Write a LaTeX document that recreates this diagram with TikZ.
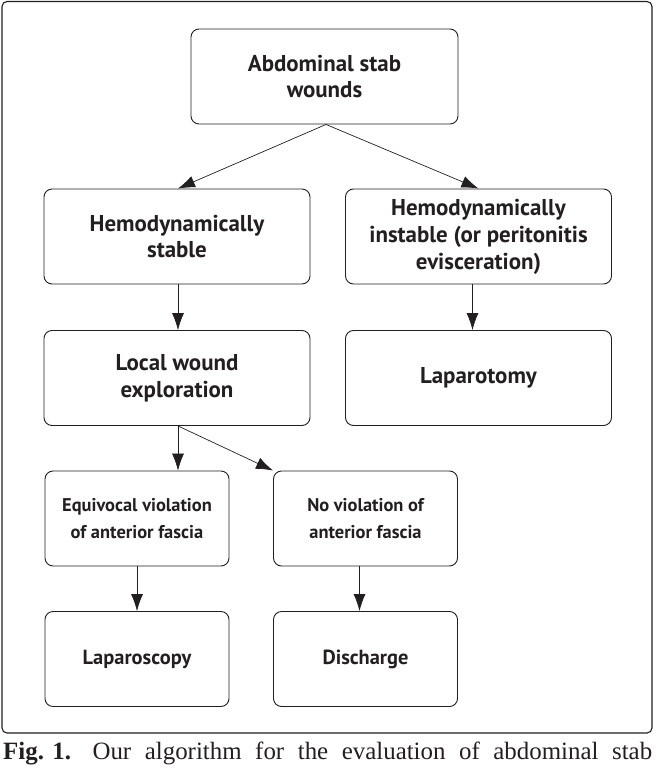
\documentclass[tikz,border=0pt]{standalone}
\usepackage{fontspec}
\setmainfont{Liberation Serif}
\newfontfamily\boxfont{PT Sans}
\usetikzlibrary{arrows.meta,calc}
\definecolor{ink}{HTML}{231F20}
\tikzset{
  bigbox/.style={draw=ink,line width=0.9bp,rounded corners=8bp,minimum width=266bp,minimum height=95bp,
    align=center,text=ink,font=\boxfont\bfseries\fontsize{23}{27}\selectfont,inner sep=0pt},
  smallbox/.style={bigbox,minimum width=184bp,font=\boxfont\bfseries\fontsize{18.5}{27}\selectfont},
  endbox/.style={smallbox,font=\boxfont\bfseries\fontsize{20.5}{27}\selectfont},
  arr/.style={draw=ink,line width=0.7bp,-{Latex[length=17bp,width=12bp]}}
}
\begin{document}
\begin{tikzpicture}[x=1bp,y=-1bp]
\useasboundingbox (0,0) rectangle (656,778);
\draw[ink,line width=1.1bp,rounded corners=5bp] (2,1.5) rectangle (652,733);
\node[bigbox,minimum width=267bp] (top) at (324.5,76.5) {Abdominal stab\\wounds};
\node[bigbox] (stable) at (177,236.5) {Hemodynamically\\stable};
\node[bigbox] (instable) at (478.5,236.5) {Hemodynamically\\instable (or peritonitis\\evisceration)};
\node[bigbox] (lwe) at (177,378) {Local wound\\exploration};
\node[bigbox] (lapt) at (478.5,378) {Laparotomy};
\node[smallbox] (equiv) at (137,518.5) {Equivocal violation\\of anterior fascia};
\node[smallbox] (novio) at (365.5,518.5) {No violation of\\anterior fascia};
\node[endbox] (lapsc) at (137,659) {Laparoscopy};
\node[endbox] (disch) at (365.5,659) {Discharge};
\coordinate (topS) at ([xshift=1.5bp]top.south);
\draw[arr] (topS) -- ([xshift=1bp]stable.north);
\draw[arr] (topS) -- (instable.north);
\draw[arr] ([xshift=1bp]stable.south) -- ([xshift=1bp]lwe.north);
\draw[arr] ([xshift=-6bp]instable.south) -- ([xshift=-6bp]lapt.north);
\draw[arr] ([xshift=1bp]lwe.south) -- ([xshift=1bp]lwe.south |- equiv.north);
\draw[arr] ([xshift=1bp]lwe.south) -- (novio.north west);
\draw[arr] (equiv.south) -- (lapsc.north);
\draw[arr] ([xshift=-6bp]novio.south) -- ([xshift=-6bp]disch.north);
\node[anchor=base west,inner sep=0pt,text=ink,font=\fontsize{25}{30}\selectfont] (cap) at (3,759)
  {\makebox[649bp][s]{\textbf{Fig. 1.}\hspace{8bp}\hfill Our\hfill algorithm\hfill for\hfill the\hfill evaluation\hfill of\hfill abdominal\hfill stab}};
\end{tikzpicture}
\end{document}
